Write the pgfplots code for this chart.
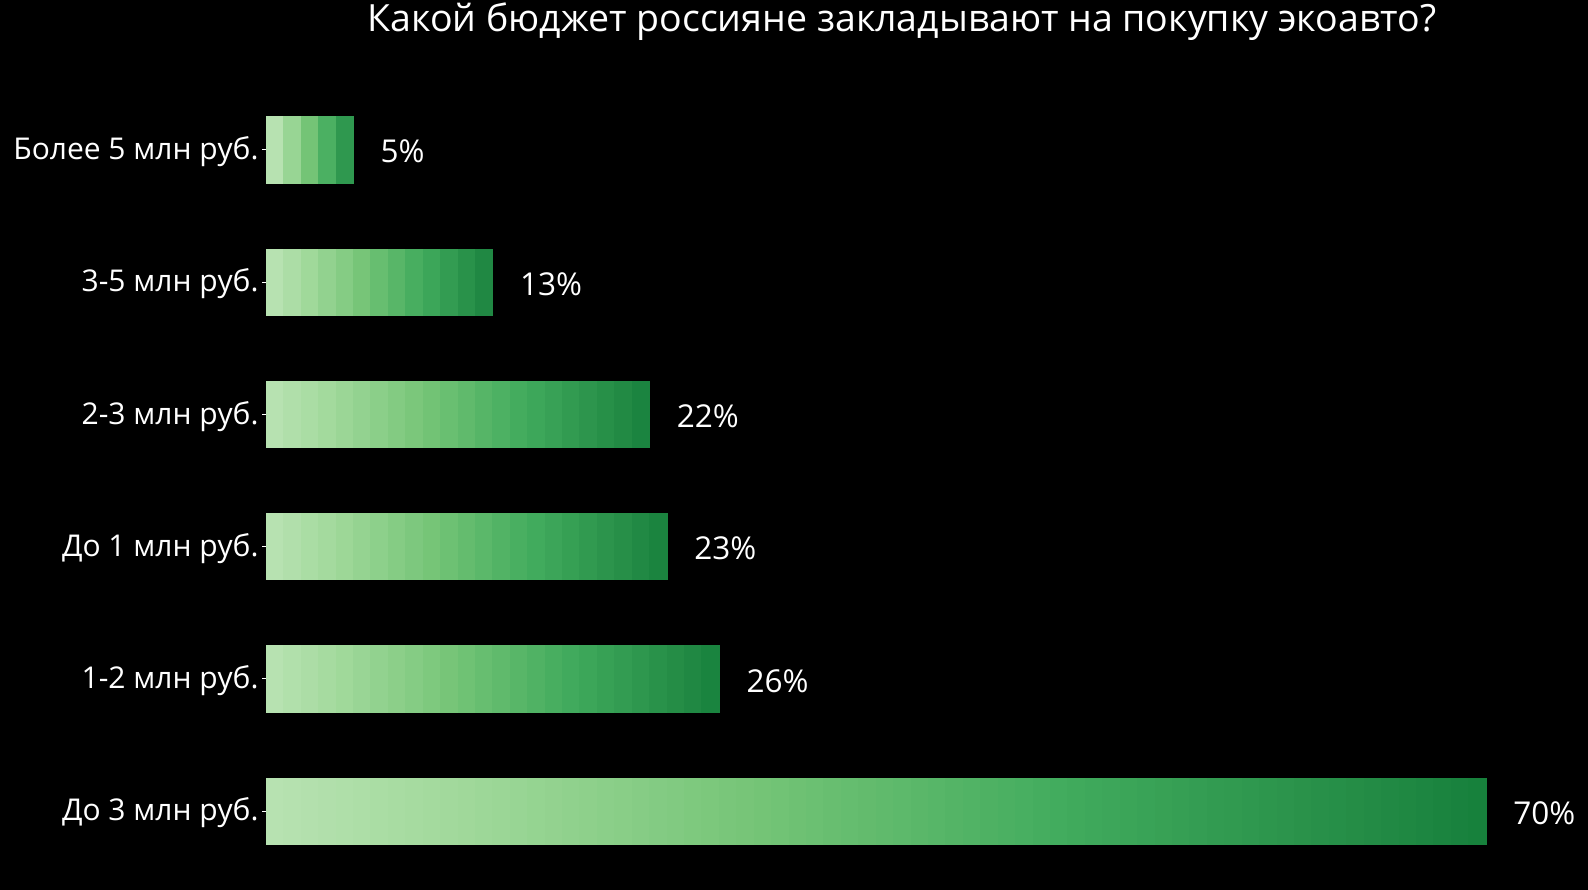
\documentclass[border=0pt]{standalone}
\usepackage{fontspec}
\setmainfont{Open Sans}
\usepackage{pgfplots}
\pgfplotsset{compat=1.18}
\begin{document}
\begin{tikzpicture}
\fill[black] (0pt,0pt) rectangle (1588pt,890pt);
\node[white, font=\fontsize{37.5}{44}\selectfont, anchor=base, inner sep=0pt] at (902pt,858pt) {Какой бюджет россияне закладывают на покупку экоавто?};
\begin{axis}[
  at={(266pt,12.8pt)}, anchor=south west, scale only axis,
  width=1220pt, height=793.7pt,
  xmin=0, xmax=70, ymin=0.5, ymax=6.5,
  axis lines*=left, axis line style={draw=none},
  xtick=\empty,
  ytick={1,2,3,4,5,6},
  yticklabels={До 3 млн руб., 1-2 млн руб., До 1 млн руб., 2-3 млн руб., 3-5 млн руб., Более 5 млн руб.},
  tick align=outside, major tick length=4pt,
  y tick style={white, line width=0.8pt},
  yticklabel style={white, font=\fontsize{30}{36}\selectfont, yshift=-2pt},
  colormap={gr}{rgb255(0pt)=(183,226,177) rgb255(15pt)=(161,217,155) rgb255(40pt)=(116,196,118) rgb255(65pt)=(65,171,93) rgb255(90pt)=(35,139,69) rgb255(100pt)=(21,127,59)},
  point meta rel=per plot,
  clip=false,
]
% 70% bar
\addplot[surf, shader=flat corner, mesh/rows=2, point meta=x] coordinates {
(0,0.75) (1,0.75) (2,0.75) (3,0.75) (4,0.75) (5,0.75) (6,0.75) (7,0.75) (8,0.75) (9,0.75)
(10,0.75) (11,0.75) (12,0.75) (13,0.75) (14,0.75) (15,0.75) (16,0.75) (17,0.75) (18,0.75) (19,0.75)
(20,0.75) (21,0.75) (22,0.75) (23,0.75) (24,0.75) (25,0.75) (26,0.75) (27,0.75) (28,0.75) (29,0.75)
(30,0.75) (31,0.75) (32,0.75) (33,0.75) (34,0.75) (35,0.75) (36,0.75) (37,0.75) (38,0.75) (39,0.75)
(40,0.75) (41,0.75) (42,0.75) (43,0.75) (44,0.75) (45,0.75) (46,0.75) (47,0.75) (48,0.75) (49,0.75)
(50,0.75) (51,0.75) (52,0.75) (53,0.75) (54,0.75) (55,0.75) (56,0.75) (57,0.75) (58,0.75) (59,0.75)
(60,0.75) (61,0.75) (62,0.75) (63,0.75) (64,0.75) (65,0.75) (66,0.75) (67,0.75) (68,0.75) (69,0.75)
(70,0.75)
(0,1.25) (1,1.25) (2,1.25) (3,1.25) (4,1.25) (5,1.25) (6,1.25) (7,1.25) (8,1.25) (9,1.25)
(10,1.25) (11,1.25) (12,1.25) (13,1.25) (14,1.25) (15,1.25) (16,1.25) (17,1.25) (18,1.25) (19,1.25)
(20,1.25) (21,1.25) (22,1.25) (23,1.25) (24,1.25) (25,1.25) (26,1.25) (27,1.25) (28,1.25) (29,1.25)
(30,1.25) (31,1.25) (32,1.25) (33,1.25) (34,1.25) (35,1.25) (36,1.25) (37,1.25) (38,1.25) (39,1.25)
(40,1.25) (41,1.25) (42,1.25) (43,1.25) (44,1.25) (45,1.25) (46,1.25) (47,1.25) (48,1.25) (49,1.25)
(50,1.25) (51,1.25) (52,1.25) (53,1.25) (54,1.25) (55,1.25) (56,1.25) (57,1.25) (58,1.25) (59,1.25)
(60,1.25) (61,1.25) (62,1.25) (63,1.25) (64,1.25) (65,1.25) (66,1.25) (67,1.25) (68,1.25) (69,1.25)
(70,1.25)
};
% 26% bar
\addplot[surf, shader=flat corner, mesh/rows=2, point meta=x] coordinates {
(0,1.75) (1,1.75) (2,1.75) (3,1.75) (4,1.75) (5,1.75) (6,1.75) (7,1.75) (8,1.75) (9,1.75)
(10,1.75) (11,1.75) (12,1.75) (13,1.75) (14,1.75) (15,1.75) (16,1.75) (17,1.75) (18,1.75) (19,1.75)
(20,1.75) (21,1.75) (22,1.75) (23,1.75) (24,1.75) (25,1.75) (26,1.75)
(0,2.25) (1,2.25) (2,2.25) (3,2.25) (4,2.25) (5,2.25) (6,2.25) (7,2.25) (8,2.25) (9,2.25)
(10,2.25) (11,2.25) (12,2.25) (13,2.25) (14,2.25) (15,2.25) (16,2.25) (17,2.25) (18,2.25) (19,2.25)
(20,2.25) (21,2.25) (22,2.25) (23,2.25) (24,2.25) (25,2.25) (26,2.25)
};
% 23% bar
\addplot[surf, shader=flat corner, mesh/rows=2, point meta=x] coordinates {
(0,2.75) (1,2.75) (2,2.75) (3,2.75) (4,2.75) (5,2.75) (6,2.75) (7,2.75) (8,2.75) (9,2.75)
(10,2.75) (11,2.75) (12,2.75) (13,2.75) (14,2.75) (15,2.75) (16,2.75) (17,2.75) (18,2.75) (19,2.75)
(20,2.75) (21,2.75) (22,2.75) (23,2.75)
(0,3.25) (1,3.25) (2,3.25) (3,3.25) (4,3.25) (5,3.25) (6,3.25) (7,3.25) (8,3.25) (9,3.25)
(10,3.25) (11,3.25) (12,3.25) (13,3.25) (14,3.25) (15,3.25) (16,3.25) (17,3.25) (18,3.25) (19,3.25)
(20,3.25) (21,3.25) (22,3.25) (23,3.25)
};
% 22% bar
\addplot[surf, shader=flat corner, mesh/rows=2, point meta=x] coordinates {
(0,3.75) (1,3.75) (2,3.75) (3,3.75) (4,3.75) (5,3.75) (6,3.75) (7,3.75) (8,3.75) (9,3.75)
(10,3.75) (11,3.75) (12,3.75) (13,3.75) (14,3.75) (15,3.75) (16,3.75) (17,3.75) (18,3.75) (19,3.75)
(20,3.75) (21,3.75) (22,3.75)
(0,4.25) (1,4.25) (2,4.25) (3,4.25) (4,4.25) (5,4.25) (6,4.25) (7,4.25) (8,4.25) (9,4.25)
(10,4.25) (11,4.25) (12,4.25) (13,4.25) (14,4.25) (15,4.25) (16,4.25) (17,4.25) (18,4.25) (19,4.25)
(20,4.25) (21,4.25) (22,4.25)
};
% 13% bar
\addplot[surf, shader=flat corner, mesh/rows=2, point meta=x] coordinates {
(0,4.75) (1,4.75) (2,4.75) (3,4.75) (4,4.75) (5,4.75) (6,4.75) (7,4.75) (8,4.75) (9,4.75)
(10,4.75) (11,4.75) (12,4.75) (13,4.75)
(0,5.25) (1,5.25) (2,5.25) (3,5.25) (4,5.25) (5,5.25) (6,5.25) (7,5.25) (8,5.25) (9,5.25)
(10,5.25) (11,5.25) (12,5.25) (13,5.25)
};
% 5% bar
\addplot[surf, shader=flat corner, mesh/rows=2, point meta=x] coordinates {
(0,5.75) (1,5.75) (2,5.75) (3,5.75) (4,5.75) (5,5.75)
(0,6.25) (1,6.25) (2,6.25) (3,6.25) (4,6.25) (5,6.25)
};
% value labels
\addplot[only marks, mark=*, mark size=0pt, mark options={draw opacity=0, fill opacity=0}, point meta=explicit symbolic,
  nodes near coords, nodes near coords style={white, anchor=west, xshift=24pt, yshift=-2pt, font=\fontsize{31.5}{38}\selectfont, opacity=1, text opacity=1}]
  coordinates {(70,1)[70\%] (26,2)[26\%] (23,3)[23\%] (22,4)[22\%] (13,5)[13\%] (5,6)[5\%]};
\end{axis}
\end{tikzpicture}
\end{document}
